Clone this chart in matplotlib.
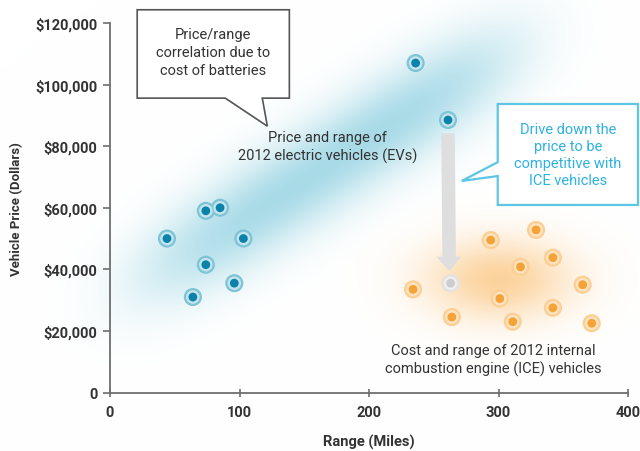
import numpy as np
import matplotlib.pyplot as plt
from matplotlib.patches import Polygon

plt.rcParams['font.family'] = ['Liberation Sans Narrow', 'Roboto', 'DejaVu Sans']

# 2012 electric vehicles: range (miles), price (dollars)
ev_range = [44, 64, 74, 74, 85, 96, 103, 236, 261]
ev_price = [50000, 31000, 41500, 59000, 60000, 35500, 50000, 107000, 88500]

# 2012 internal combustion engine vehicles
ice_range = [234, 264, 294, 301, 311, 317, 329, 342, 342, 365, 372]
ice_price = [33500, 24500, 49500, 30500, 23000, 40800, 52800, 43800, 27500, 35000, 22500]

# target point for EVs after price reduction
target_range = [263]
target_price = [35500]

yticks = [0, 20000, 40000, 60000, 80000, 100000, 120000]
ytick_labels = ['0', '$20,000', '$40,000', '$60,000', '$80,000', '$100,000', '$120,000']
xticks = [0, 100, 200, 300, 400]

W, H = 640, 452
fig = plt.figure(figsize=(6.4, 4.52), dpi=100)

# soft background glows, drawn in figure pixel space
bg = fig.add_axes([0, 0, 1, 1], zorder=0)
bg.set_axis_off()
yy, xx = np.mgrid[0:H, 0:W].astype(float)
img = np.ones((H, W, 3))

# blue band along the price/range trend
ang = np.deg2rad(-33)
cx, cy = 328, 165
u = (xx - cx) * np.cos(ang) + (yy - cy) * np.sin(ang)
v = -(xx - cx) * np.sin(ang) + (yy - cy) * np.cos(ang)
blue_a = 0.62 * np.exp(-(np.abs(u) / 220) ** 4) * np.exp(-(v / 44) ** 2)
blue = np.array([0.45, 0.77, 0.85])
img = img * (1 - blue_a[..., None]) + blue * blue_a[..., None]

# orange cloud around the ICE cluster
oa = 0.62 * np.exp(-((xx - 498) / 72) ** 2 - ((yy - 280) / 40) ** 2)
orange = np.array([0.98, 0.72, 0.38])
img = img * (1 - oa[..., None]) + orange * oa[..., None]

bg.imshow(img, extent=[0, 1, 0, 1], aspect='auto', origin='upper')
bg.set_xlim(0, 1)
bg.set_ylim(0, 1)

ax = fig.add_axes([110 / W, 1 - 393.5 / H, 518 / W, 369.5 / H], zorder=1)
ax.patch.set_alpha(0)
ax.set_xlim(0, 400)
ax.set_ylim(0, 120000)

for side in ['top', 'right']:
    ax.spines[side].set_visible(False)
for side in ['left', 'bottom']:
    ax.spines[side].set_color('#6e6e6e')
    ax.spines[side].set_linewidth(1.3)

ax.set_yticks(yticks)
ax.set_yticklabels(ytick_labels)
ax.set_xticks(xticks)
ax.tick_params(axis='y', direction='out', length=5, width=1.2, color='#6e6e6e',
               labelsize=10.5, labelcolor='#333333', pad=4)
ax.tick_params(axis='x', direction='inout', length=6, width=1.2, color='#6e6e6e',
               labelsize=10.5, labelcolor='#333333', pad=6)
for lab in ax.get_xticklabels() + ax.get_yticklabels():
    lab.set_fontweight('bold')

ax.set_xlabel('Range (Miles)', fontsize=10.5, fontweight='bold', color='#333333', labelpad=11)
ax.set_ylabel('Vehicle Price (Dollars)', fontsize=9.5, fontweight='bold', color='#333333', labelpad=9)

# arrow from the high-priced EV down to the target price
ax.annotate('', xy=(target_range[0] - 1, target_price[0] + 3000),
            xytext=(ev_range[-1], ev_price[-1] - 3500),
            arrowprops=dict(arrowstyle='simple,head_length=0.7,head_width=1.2,tail_width=0.65',
                            color='#dedede', lw=0, mutation_scale=15), zorder=2)


def ringed(x, y, outer, mid, inner):
    ax.scatter(x, y, s=170, color=outer, edgecolors='none', zorder=3, clip_on=False)
    ax.scatter(x, y, s=95, color=mid, edgecolors='none', zorder=4, clip_on=False)
    ax.scatter(x, y, s=40, color=inner, edgecolors='none', zorder=5, clip_on=False)


ringed(ev_range, ev_price, '#7fc3d6', '#c4e5ee', '#0a82aa')
ringed(ice_range, ice_price, '#fbcf95', '#fde3c0', '#f5a236')
ringed(target_range, target_price, '#e2e2e2', '#efefef', '#cdcdcd')

# callout: price/range correlation
box1 = Polygon([(21, 124300), (138.5, 124300), (138.5, 95600), (117.6, 95600),
                (121.5, 86500), (89, 95600), (21, 95600)], closed=True,
               facecolor='white', edgecolor='#555555', lw=1.2, zorder=6, clip_on=False)
ax.add_patch(box1)
ax.text(79.7, 110600, 'Price/range\ncorrelation due to\ncost of batteries', ha='center', va='center',
        fontsize=10.5, color='#333333', linespacing=1.35, zorder=7)

ax.text(168, 80000, 'Price and range of\n2012 electric vehicles (EVs)', ha='center', va='center',
        fontsize=10.5, color='#333333', linespacing=1.3, zorder=7)

# callout: price target
box2 = Polygon([(299.4, 93700), (407.7, 93700), (407.7, 60900), (299.4, 60900),
                (299.4, 70300), (271.6, 68700), (299.4, 74800)], closed=True,
               facecolor='white', edgecolor='#5cc6e4', lw=1.6, zorder=6, clip_on=False)
ax.add_patch(box2)
ax.text(353.6, 77300, 'Drive down the\nprice to be\ncompetitive with\nICE vehicles', ha='center',
        va='center', fontsize=10.5, color='#2fb2e0', linespacing=1.3, zorder=7)

ax.text(296, 10700, 'Cost and range of 2012 internal\ncombustion engine (ICE) vehicles',
        ha='center', va='center', fontsize=10.5, color='#333333', linespacing=1.3, zorder=7)

fig.savefig('out.png', dpi=100)
